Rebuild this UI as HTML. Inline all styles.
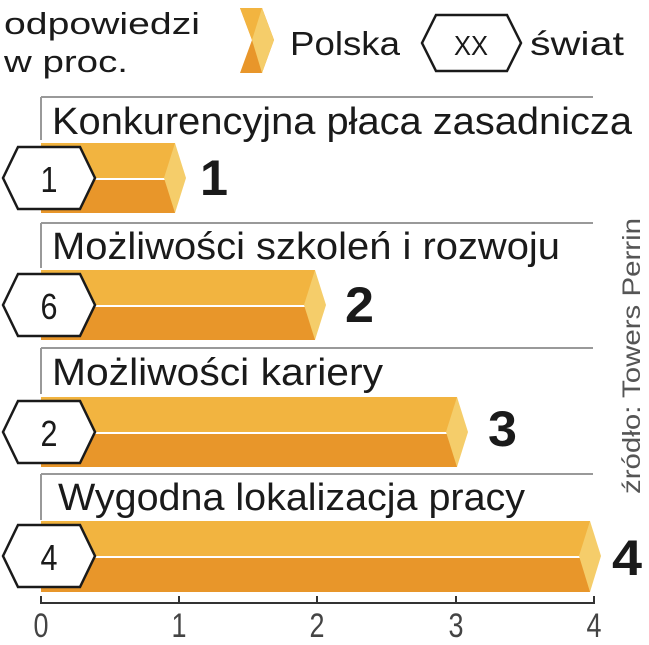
<!DOCTYPE html>
<html><head><meta charset="utf-8"><style>
body{margin:0;background:#fff;}
svg text{font-family:"Liberation Sans","DejaVu Sans",sans-serif;}
</style></head><body>
<svg width="649" height="640" viewBox="0 0 649 640" xmlns="http://www.w3.org/2000/svg">
<text x="4" y="34" font-size="31" fill="#1a1a1a" textLength="196" lengthAdjust="spacingAndGlyphs">odpowiedzi</text>
<text x="4" y="72" font-size="31" fill="#1a1a1a" textLength="124" lengthAdjust="spacingAndGlyphs">w proc.</text>
<polygon points="240,8 262,8 274,40 262,73 240,73 252,40" fill="#e8962a"/>
<polygon points="240,8 262,8 274,40 252,40" fill="#f2b440"/>
<polygon points="262,8 274,40 262,73 252,40" fill="#f5cd6a"/>
<text x="290" y="55" font-size="33" fill="#1a1a1a" textLength="110" lengthAdjust="spacingAndGlyphs">Polska</text>
<polygon points="422,43 436,15 507,15 521,43 507,71 436,71" fill="#fff" stroke="#1a1a1a" stroke-width="2.5"/>
<text x="471" y="55" font-size="28" text-anchor="middle" fill="#1a1a1a" textLength="34" lengthAdjust="spacingAndGlyphs">XX</text>
<text x="530" y="55" font-size="33" fill="#1a1a1a" textLength="94" lengthAdjust="spacingAndGlyphs">świat</text>
<g stroke="#999" stroke-width="2" fill="none">
<path d="M41,97 H593 M41,97 V140"/>
<path d="M41,223 H593 M41,223 V268"/>
<path d="M41,348 H593 M41,348 V394"/>
<path d="M41,474 H593 M41,474 V520"/>
</g>
<g font-size="38" fill="#1a1a1a">
<text x="52" y="134" textLength="580" lengthAdjust="spacingAndGlyphs">Konkurencyjna płaca zasadnicza</text>
<text x="52" y="259" textLength="508" lengthAdjust="spacingAndGlyphs">Możliwości szkoleń i rozwoju</text>
<text x="52" y="385" textLength="331" lengthAdjust="spacingAndGlyphs">Możliwości kariery</text>
<text x="58" y="510" textLength="467" lengthAdjust="spacingAndGlyphs">Wygodna lokalizacja pracy</text>
</g>
<g>
<rect x="41" y="143" width="134" height="35" fill="#f2b440"/><rect x="41" y="180" width="134" height="33" fill="#e8962a"/>
<polygon points="175,143 186,178 175,213 164,178" fill="#f5cd6a"/>
<rect x="41" y="270" width="274" height="35" fill="#f2b440"/><rect x="41" y="307" width="274" height="33" fill="#e8962a"/>
<polygon points="315,270 326,305 315,340 304,305" fill="#f5cd6a"/>
<rect x="41" y="397" width="416" height="35" fill="#f2b440"/><rect x="41" y="434" width="416" height="33" fill="#e8962a"/>
<polygon points="457,397 468,432 457,467 446,432" fill="#f5cd6a"/>
<rect x="41" y="521" width="549" height="35" fill="#f2b440"/><rect x="41" y="558" width="549" height="34" fill="#e8962a"/>
<polygon points="590,521 601,556 590,592 579,556" fill="#f5cd6a"/>
</g>
<g fill="#fff" stroke="#1a1a1a" stroke-width="2.5">
<polygon points="3,178 18,147 80,147 95,178 80,209 18,209"/>
<polygon points="3,305 18,274 80,274 95,305 80,336 18,336"/>
<polygon points="3,432 18,401 80,401 95,432 80,463 18,463"/>
<polygon points="3,556 18,525 80,525 95,556 80,587 18,587"/>
</g>
<g font-size="36" fill="#1a1a1a" text-anchor="middle">
<text x="49" y="192" textLength="17" lengthAdjust="spacingAndGlyphs">1</text>
<text x="49" y="319" textLength="17" lengthAdjust="spacingAndGlyphs">6</text>
<text x="49" y="446" textLength="17" lengthAdjust="spacingAndGlyphs">2</text>
<text x="49" y="570" textLength="17" lengthAdjust="spacingAndGlyphs">4</text>
</g>
<g font-size="50" font-weight="bold" fill="#1a1a1a">
<text x="200" y="195" textLength="28" lengthAdjust="spacingAndGlyphs">1</text>
<text x="345" y="322" textLength="29" lengthAdjust="spacingAndGlyphs">2</text>
<text x="488" y="446" textLength="29" lengthAdjust="spacingAndGlyphs">3</text>
<text x="612" y="575" textLength="30" lengthAdjust="spacingAndGlyphs">4</text>
</g>
<path d="M41,596 V603 H594 V596 M179,596 V603 M317,596 V603 M456,596 V603" stroke="#333" stroke-width="2" fill="none"/>
<g font-size="34" fill="#444" text-anchor="middle">
<text x="41" y="637" textLength="15" lengthAdjust="spacingAndGlyphs">0</text>
<text x="179" y="637" textLength="15" lengthAdjust="spacingAndGlyphs">1</text>
<text x="317" y="637" textLength="15" lengthAdjust="spacingAndGlyphs">2</text>
<text x="456" y="637" textLength="15" lengthAdjust="spacingAndGlyphs">3</text>
<text x="594" y="637" textLength="15" lengthAdjust="spacingAndGlyphs">4</text>
</g>
<text transform="translate(640,494) rotate(-90)" font-size="25" fill="#555" textLength="276" lengthAdjust="spacingAndGlyphs">źródło: Towers Perrin</text>
</svg>
</body></html>
